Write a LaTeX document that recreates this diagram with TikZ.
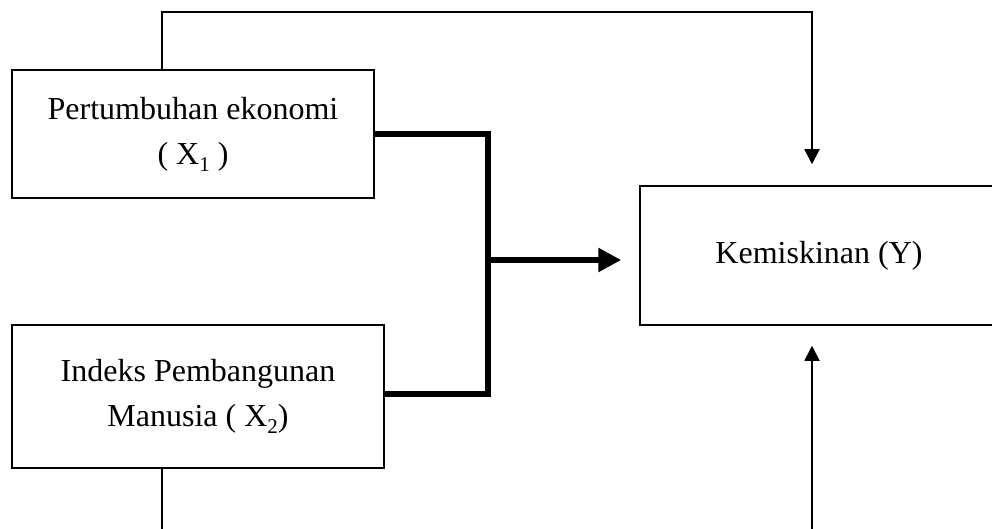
\documentclass[tikz,border=0pt]{standalone}
\usepackage{fontspec}
\setmainfont{Liberation Serif}
\usetikzlibrary{arrows.meta,calc}
\newcommand{\subnum}[1]{\raisebox{-0.22em}{\fontsize{21}{21}\selectfont #1}}
\begin{document}
\begin{tikzpicture}[x=1pt,y=-1pt,
  box/.style={draw,line width=1.5pt,inner sep=0pt,align=center,font=\fontsize{32}{45}\selectfont},
  thinline/.style={line width=1.8pt,-{Triangle[length=15pt,width=15pt]}},
  thickline/.style={line width=5.5pt}]
\clip (0,0) rectangle (992,529);
\node[box,minimum width=362pt,minimum height=128pt] (b1) at (193,134) {Pertumbuhan ekonomi\\( X\subnum{1} )};
\node[box,minimum width=372pt,minimum height=143pt] (b2) at (198,396.5) {Indeks Pembangunan\\Manusia ( X\subnum{2})};
\node[box,minimum width=358pt,minimum height=139pt] (b3) at (819,255.5) {\raisebox{5pt}{Kemiskinan (Y)}};
\coordinate (t1) at (162,12);
\coordinate (t2) at (812,12);
\coordinate (u1) at (162,560);
\coordinate (u2) at (812,560);
\coordinate (j) at (488,260);
% top feedback line
\draw[thinline,shorten >=21pt] (b1.north -| t1) -- (t1) -- (t2) -- (b3.north -| t2);
% bottom line
\draw[thinline,shorten >=20pt] (b2.south -| u1) -- (u1) -- (u2) -- (b3.south -| u2);
% thick bracket
\draw[thickline,line join=miter] (b1.east) -| (j |- b1.east) -- (j |- 0,394) -- (b2.east |- 0,394);
\draw[thickline,-{Triangle[length=23pt,width=23pt]},shorten >=18pt] (j) -- (j -| b3.west);
\end{tikzpicture}
\end{document}
